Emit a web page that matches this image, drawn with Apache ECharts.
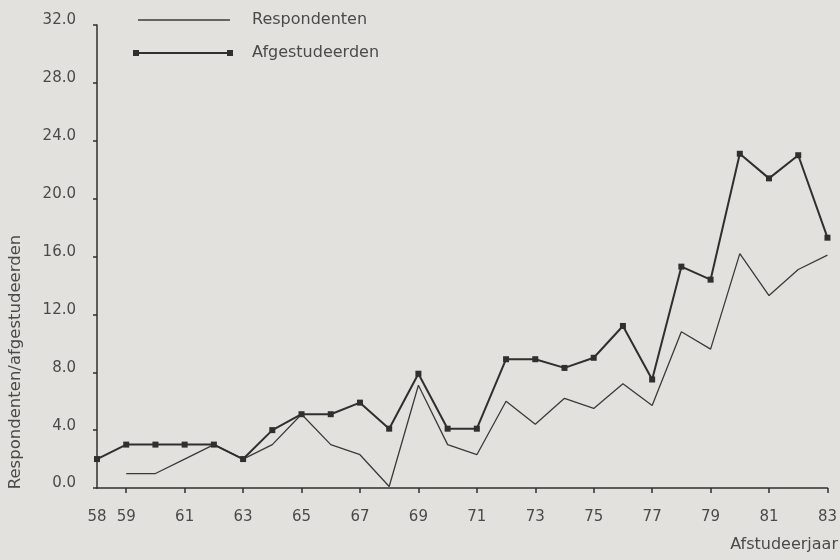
<!DOCTYPE html>
<html>
<head>
<meta charset="utf-8">
<title>Respondenten / afgestudeerden</title>
<script src="https://cdn.jsdelivr.net/npm/echarts@6/dist/echarts.min.js"></script>
<style>
  html, body { margin: 0; padding: 0; background: #e3e1dd; }
  #main { width: 840px; height: 560px; }
</style>
</head>
<body>
<div id="main"></div>
<script>
// jaren (afstudeerjaar)
var years = ['58', '59', '60', '61', '62', '63', '64', '65', '66', '67', '68', '69', '70',
             '71', '72', '73', '74', '75', '76', '77', '78', '79', '80', '81', '82', '83'];
// labels onder de x-as
var yearLabels = {0: '58', 1: '59', 3: '61', 5: '63', 7: '65', 9: '67', 11: '69', 13: '71',
                  15: '73', 17: '75', 19: '77', 21: '79', 23: '81', 25: '83'};
// waarden
var respondenten = [null, 1.0, 1.0, 2.0, 3.0, 2.0, 3.0, 5.1, 3.0, 2.3, 0.1, 7.1, 3.0,
                    2.3, 6.0, 4.4, 6.2, 5.5, 7.2, 5.7, 10.8, 9.6, 16.2, 13.3, 15.1, 16.1];
var afgestudeerden = [2.0, 3.0, 3.0, 3.0, 3.0, 2.0, 4.0, 5.1, 5.1, 5.9, 4.1, 7.9, 4.1,
                      4.1, 8.9, 8.9, 8.3, 9.0, 11.2, 7.5, 15.3, 14.4, 23.1, 21.4, 23.0, 17.3];
var yTicks = [0, 4, 8, 12, 16, 20, 24, 28, 32];

var ink = '#2f2f2f';
var textColor = '#4a4a4a';
var font = 'DejaVu Sans';

var myChart = echarts.init(document.getElementById('main'));

var option = {
    backgroundColor: '#e3e1dd',
    animation: false,
    textStyle: { fontFamily: font },
    grid: { left: 97, right: 7, top: 25, bottom: 72 },
    legend: [{
        data: ['Respondenten'],
        left: 138,
        top: 12,
        padding: 0,
        icon: 'rect',
        itemWidth: 92,
        itemHeight: 1.5,
        itemStyle: { borderWidth: 0 },
        textStyle: { color: textColor, fontSize: 16, fontFamily: font, padding: [0, 0, 0, 17] }
    }, {
        data: ['Afgestudeerden'],
        left: 133,
        top: 45,
        padding: 0,
        icon: 'path://M0,0h6v6h-6z M6,2.1h88v1.8h-88z M94,0h6v6h-6z',
        itemWidth: 100,
        itemHeight: 6,
        itemStyle: { borderWidth: 0 },
        textStyle: { color: textColor, fontSize: 16, fontFamily: font, padding: [0, 0, 0, 14] }
    }],
    xAxis: {
        type: 'category',
        data: years,
        boundaryGap: false,
        axisLine: { lineStyle: { color: ink, width: 1.5 } },
        axisTick: {
            length: 5,
            lineStyle: { color: ink, width: 1.5 },
            interval: function (i) { return i % 2 === 1; }
        },
        axisLabel: {
            margin: 22,
            color: textColor,
            fontSize: 15,
            interval: function (i) { return yearLabels[i] !== undefined; },
            formatter: function (v, i) { return yearLabels[i] || ''; }
        },
        splitLine: { show: false }
    },
    yAxis: {
        type: 'value',
        min: yTicks[0],
        max: yTicks[yTicks.length - 1],
        interval: 4,
        axisLine: { show: true, lineStyle: { color: ink, width: 1.5 } },
        axisTick: { show: true, length: 4, lineStyle: { color: ink, width: 1.5 } },
        axisLabel: {
            margin: 21,
            color: textColor,
            fontSize: 15,
            verticalAlign: 'bottom',
            lineHeight: 9,
            formatter: function (v) { return v.toFixed(1); }
        },
        splitLine: { show: false }
    },
    graphic: [{
        type: 'text',
        x: 16,
        y: 362,
        rotation: Math.PI / 2,
        style: {
            text: 'Respondenten/afgestudeerden',
            fill: textColor,
            font: '16.5px "DejaVu Sans"',
            textAlign: 'center',
            textVerticalAlign: 'middle'
        }
    }, {
        type: 'text',
        right: 2,
        top: 537,
        style: {
            text: 'Afstudeerjaar',
            fill: textColor,
            font: '16px "DejaVu Sans"'
        }
    }],
    series: [{
        name: 'Respondenten',
        type: 'line',
        data: respondenten,
        symbol: 'none',
        color: '#3a3a3a',
        lineStyle: { color: '#3a3a3a', width: 1.3 }
    }, {
        name: 'Afgestudeerden',
        type: 'line',
        data: afgestudeerden,
        symbol: 'rect',
        symbolSize: 6,
        color: ink,
        itemStyle: { color: ink },
        lineStyle: { color: ink, width: 2 }
    }]
};

myChart.setOption(option);
</script>
</body>
</html>
